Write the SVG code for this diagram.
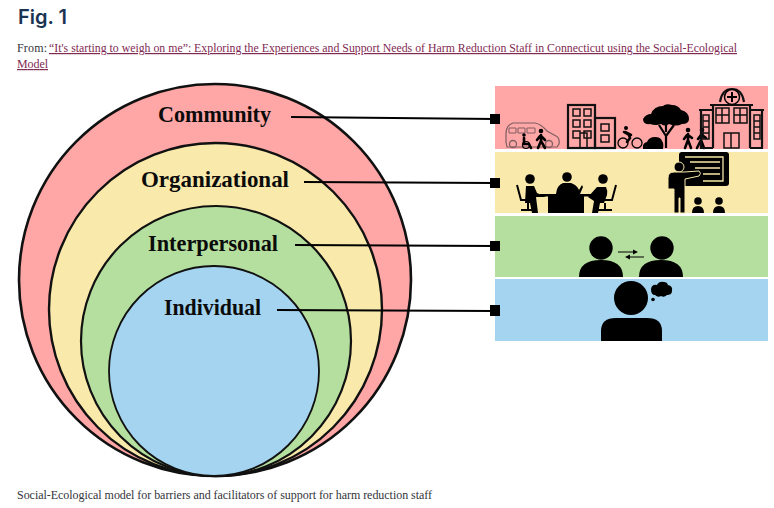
<svg xmlns="http://www.w3.org/2000/svg" width="774" height="508" viewBox="0 0 774 508">
<style>
.c{stroke:#111;fill-opacity:1}
.l{font:bold 24px "Liberation Serif",serif;fill:#0b0b0b}
.b{font:12px "Liberation Serif",serif;fill:#33353a}
.a{font:12px "Liberation Serif",serif;fill:#7f2a52;text-decoration:underline}
.k{stroke:#111;stroke-width:2.200;fill:none}
.o{stroke:#111;stroke-width:1.500;fill:none}
.f{fill:#000}
.t{stroke:#000;stroke-width:2.600;fill:none;stroke-linecap:round}
</style>
<rect width="774" height="508" fill="#fff"/>
<text x="18" y="24" font-family="Inter,'Open Sans',sans-serif" font-size="20" font-weight="600" fill="#1b3352" textLength="49">Fig. 1</text>
<text class="b" x="17" y="52" textLength="30">From:</text>
<text class="a" x="49" y="52" textLength="688" lengthAdjust="spacingAndGlyphs">“It's starting to weigh on me”: Exploring the Experiences and Support Needs of Harm Reduction Staff in Connecticut using the Social-Ecological</text>
<text class="a" x="17" y="68" textLength="31">Model</text>
<g id="community"><circle class="c" stroke-width="2.600" cx="215" cy="280" r="196" fill="#ffa6a6"/></g>
<g id="organizational"><circle class="c" stroke-width="2.400" cx="215.500" cy="309.500" r="166.500" fill="#f9e9ab"/></g>
<g id="interpersonal"><circle class="c" stroke-width="2.200" cx="216" cy="341" r="135" fill="#b5df9f"/></g>
<g id="individual"><circle class="c" stroke-width="1.800" cx="214" cy="371" r="105" fill="#a4d4ef"/></g>
<text class="l" x="158" y="122" textLength="113" lengthAdjust="spacingAndGlyphs">Community</text>
<text class="l" x="141" y="187" textLength="148" lengthAdjust="spacingAndGlyphs">Organizational</text>
<text class="l" x="148" y="251" textLength="130" lengthAdjust="spacingAndGlyphs">Interpersonal</text>
<text class="l" x="164" y="315" textLength="97" lengthAdjust="spacingAndGlyphs">Individual</text>
<g id="panel-community">
<rect x="495" y="86" width="273" height="63" fill="#ffa6a6"/>
<g id="van"><path d="M506 142v-8q0-9 7-11h22q6 1 12 8l9 5q4 2 3 8l-2 3h-50z" fill="none" stroke="#7e5f62" stroke-width="1.200"/><path d="M509 133v-5h7v5zM518 133v-5h7v5zM527 133v-5h8v5z" fill="none" stroke="#7e5f62"/><circle cx="513" cy="144" r="3.500" fill="none" stroke="#7e5f62" stroke-width="1.300"/><circle cx="549" cy="144" r="3.500" fill="none" stroke="#7e5f62" stroke-width="1.300"/></g>
<g id="wheelchair"><circle class="f" cx="524" cy="135" r="1.800"/><path class="t" d="M524 138v6h5l2 4" stroke-width="2"/><circle cx="526" cy="145" r="3.500" fill="none" stroke="#000" stroke-width="1.200"/></g>
<g id="walker"><circle class="f" cx="541" cy="131" r="2.300"/><path class="t" d="M541 135v6l-3 7M541 141l4 7M541 136l4 4M540 136l-3 4"/></g>
<g id="buildings"><rect class="k" x="568" y="105" width="27" height="43"/><rect class="k" x="595" y="118" width="20" height="30"/>
<path class="o" d="M573 109h7v7h-7zM584 109h7v7h-7zM573 120h7v7h-7zM584 120h7v7h-7zM573 131h7v7h-7zM584 131h7v7h-7zM601 124h8v7h-8zM601 135h8v7h-8zM580 133h7v15h-7z"/></g>
<g id="cyclist"><circle cx="623" cy="143" r="5" fill="none" stroke="#000" stroke-width="1.300"/><circle cx="637" cy="143" r="5" fill="none" stroke="#000" stroke-width="1.300"/><circle class="f" cx="626" cy="128" r="2"/><path class="t" d="M624 132l5 3 1 3-3 4M625 132l6 3" stroke-width="2"/></g>
<g id="tree"><path class="f" d="M643 119q3-5 8-5 3-8 12-8 3-3 9-1 6 0 9 5 8 2 8 9 0 5-7 5-6 3-13 0-4 3-8 0-5 2-11 0-7 1-7-5z"/><path d="M666 148v-12l-7-11M666 136l8-11M666 132l0-8" stroke="#000" stroke-width="2.200" fill="none"/><path class="f" d="M643 149q-1-6 4-7 2-5 8-5 6 0 7 4 2 2 1 8z"/></g>
<g id="walkers"><circle class="f" cx="688" cy="130" r="2.300"/><path class="t" d="M688 134v6l-3 8M688 140l3 8M688 135l4 3M687 135l-3 4"/><circle class="f" cx="702" cy="130" r="2.300"/><path class="t" d="M702 134l-1 6-4 8M701 140l3 8M702 135l4 3M701 135l-3 4"/></g>
<g id="hospital"><path class="k" d="M713 148v-43h37v43M710 105h43" stroke-width="1.800"/><path class="k" d="M713 110h-12v38h12M750 110h12v38h-12M699 110h15M749 110h15" stroke-width="1.600"/><path class="k" d="M720 102q2-13 12-13t12 13" stroke-width="1.600"/><circle cx="732" cy="97" r="7.500" fill="#ffa6a6" stroke="#000" stroke-width="1.500"/><path d="M732 92v10M727 97h10" stroke="#000" stroke-width="2"/><path class="o" d="M716 108h13v15h-13zM722 108v15M716 115h13M734 108h13v15h-13zM740 108v15M734 115h13M724 133h15v15h-15zM731 133v15M703 115h6v24h-6zM703 121h6M703 127h6M703 133h6M754 115h6v24h-6zM754 121h6M754 127h6M754 133h6"/></g>
</g>
<g id="panel-organizational">
<rect x="495" y="152" width="273" height="61" fill="#f9e9ab"/>
<g id="meeting"><circle class="f" cx="530" cy="179" r="4.800"/><circle class="f" cx="567" cy="177" r="4.800"/><circle class="f" cx="603" cy="179" r="4.800"/>
<path class="f" d="M526 186h8l3 7 9 4h-10l2 16h-6l-2-10h-5zM556 194q1-9 7-11h8q6 2 8 7l3-5 1 2-3 7zM588 197l9-10h9q2 4 1 8l-3 8h-4l-2 10h-6l2-12z"/>
<path d="M517 185l4 15h9M528 203v6M521 210h14M616 185l-4 15h-8M605 203v6M598 210h14" stroke="#000" stroke-width="2" fill="none"/>
<rect x="540" y="194" width="55" height="2.500" fill="#000"/><rect x="548" y="196" width="36" height="17" fill="#000"/></g>
<g id="teacher"><path d="M682 152h44q3 0 3 3v28q0 3-3 3h-44q-3 0-3-3v-28q0-3 3-3z" fill="#000"/><path d="M685 157h38v24h-20M690 162h30M695 168h25M703 174h17" stroke="#f9e9ab" stroke-width="1.300" fill="none"/><circle class="f" cx="679" cy="167" r="5" stroke="#f9e9ab"/><path d="M668 178q0-6 6-6h10l15-1q3 2 0 5l-14 3v34h-5v-15h-1v15h-5v-24h-6z" fill="#000" stroke="#f9e9ab"/><circle class="f" cx="698" cy="201" r="3.800"/><circle class="f" cx="719" cy="201" r="3.800"/><path class="f" d="M692 213q0-7 6-7t6 7zM713 213q0-7 6-7t6 7z"/></g>
</g>
<g id="panel-interpersonal">
<rect x="495" y="216" width="273" height="61" fill="#b5df9f"/>
<circle class="f" cx="601" cy="248" r="11.700"/><path class="f" d="M579 277q0-17 22-17t22 17z"/>
<circle class="f" cx="662" cy="248" r="11.700"/><path class="f" d="M639 277q0-17 22-17t22 17z"/>
<path d="M618 252h17M644 257h-17" stroke="#000" stroke-width="1.200"/><path class="f" d="M638 252l-5-2.500v5zM625 257l5-2.500v5z"/>
</g>
<g id="panel-individual">
<rect x="495" y="279" width="273" height="62" fill="#a4d4ef"/>
<circle class="f" cx="631" cy="298" r="17"/><path class="f" d="M601 341v-10q0-13 15-13h31q15 0 15 13v10z"/>
<path class="f" d="M651 289q1-5 6-4 2-4 7-3 3 0 4 3 5 1 4 6 0 4-5 4-3 3-6 1-3 2-6-1-4 0-4-6z"/><circle class="f" cx="653" cy="299.500" r="1.800"/>
</g>
<g id="connectors" stroke="#000" stroke-width="2">
<path d="M291 117L495 119M304 182L495 183M295 245L495 246M277 310L495 311" fill="none"/>
<rect x="490" y="114" width="10" height="10" fill="#000" stroke="none"/>
<rect x="490" y="178" width="10" height="10" fill="#000" stroke="none"/>
<rect x="490" y="241" width="10" height="10" fill="#000" stroke="none"/>
<rect x="490" y="305" width="10" height="11" fill="#000" stroke="none"/>
</g>
<text class="b" x="17" y="499" textLength="415">Social-Ecological model for barriers and facilitators of support for harm reduction staff</text>
</svg>
